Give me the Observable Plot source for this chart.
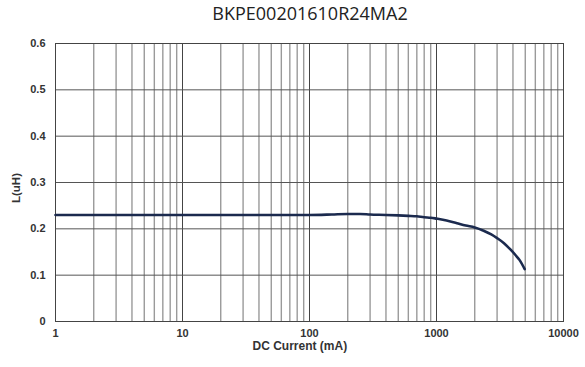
<!DOCTYPE html>
<html>
<head>
<meta charset="utf-8">
<script src="https://cdn.jsdelivr.net/npm/d3@7"></script>
<script src="https://cdn.jsdelivr.net/npm/@observablehq/plot@0.6"></script>
<style>
  html, body { margin: 0; padding: 0; background: #fff; }
  #wrap { position: relative; width: 585px; height: 367px; overflow: hidden; }
  #title { position: absolute; left: 0; top: 0.5px; width: 585px; text-align: center; line-height: 1.362;
           font-family: "Open Sans", sans-serif; font-size: 18px; color: #222; padding-left: 35px; box-sizing: border-box; }
  #ylabel { position: absolute; left: 16px; top: 188px; transform: translate(-50%, -50%) rotate(-90deg);
            font-family: "Liberation Sans", Arial, sans-serif; font-weight: bold; font-size: 11.5px; color: #333; white-space: nowrap; }
  #chart { position: absolute; left: 0; top: 0; }
</style>
</head>
<body>
<div id="wrap">
  <div id="chart"></div>
  <div id="title"></div>
  <div id="ylabel"></div>
</div>
<script>
const titleText = "BKPE00201610R24MA2";
const xLabel = "DC Current (mA)";
const yLabel = "L(uH)";
const xTicks = [1, 10, 100, 1000, 10000];
const yTicks = [0, 0.1, 0.2, 0.3, 0.4, 0.5, 0.6];
const currentMA = [1, 2, 5, 10, 20, 50, 100, 150, 200, 250, 300, 400, 500, 600, 700, 800, 900, 1000, 1200, 1450, 1700, 2000, 2350, 2700, 3000, 3400, 3800, 4200, 4500, 4950];
const inductance = [0.230, 0.230, 0.230, 0.230, 0.230, 0.230, 0.230, 0.231, 0.232, 0.232, 0.231, 0.230, 0.229, 0.228, 0.227, 0.225, 0.224, 0.222, 0.218, 0.212, 0.207, 0.203, 0.196, 0.188, 0.180, 0.169, 0.156, 0.143, 0.133, 0.113];

document.getElementById("title").textContent = titleText;
document.getElementById("ylabel").textContent = yLabel;

const minorTicks = [];
for (const dec of [1, 10, 100, 1000]) for (let k = 2; k <= 9; k++) minorTicks.push(dec * k);

const data = currentMA.map((c, i) => ({c, L: inductance[i]}));

const plot = Plot.plot({
  width: 585,
  height: 367,
  marginLeft: 55,
  marginRight: 22,
  marginTop: 43,
  marginBottom: 46,
  style: {background: "#fff", fontFamily: "'Liberation Sans', Arial, sans-serif", fontWeight: "bold", fontSize: "11px", color: "#333"},
  x: {type: "log", domain: [1, 10000], ticks: xTicks, tickFormat: d => String(d), tickSize: 0, tickPadding: 8, label: null},
  y: {domain: [0, 0.6], ticks: yTicks, tickFormat: d => d === 0 ? "0" : d.toFixed(1), tickSize: 0, tickPadding: 10, label: null},
  marks: [
    Plot.ruleX(minorTicks, {stroke: "#9a9a9a", strokeWidth: 1.4}),
    Plot.ruleX(xTicks, {stroke: "#444", strokeWidth: 1}),
    Plot.ruleY(yTicks, {stroke: "#555", strokeWidth: 1}),
    Plot.frame({stroke: "#444", strokeWidth: 1}),
    Plot.line(data, {x: "c", y: "L", stroke: "#1b2a4e", strokeWidth: 2.6, curve: "monotone-x"}),
    Plot.axisX({ticks: xTicks, tickFormat: d => String(d), tickSize: 0, tickPadding: 8, label: null}),
    Plot.axisY({ticks: yTicks, tickFormat: d => d === 0 ? "0" : d.toFixed(1), tickSize: 0, tickPadding: 10, label: null}),
    Plot.text([xLabel], {frameAnchor: "bottom-left", dx: 197, dy: 28, text: d => d, textAnchor: "start", fontSize: 12, fontWeight: "bold", fill: "#333"})
  ]
});
document.getElementById("chart").appendChild(plot);
</script>
</body>
</html>
